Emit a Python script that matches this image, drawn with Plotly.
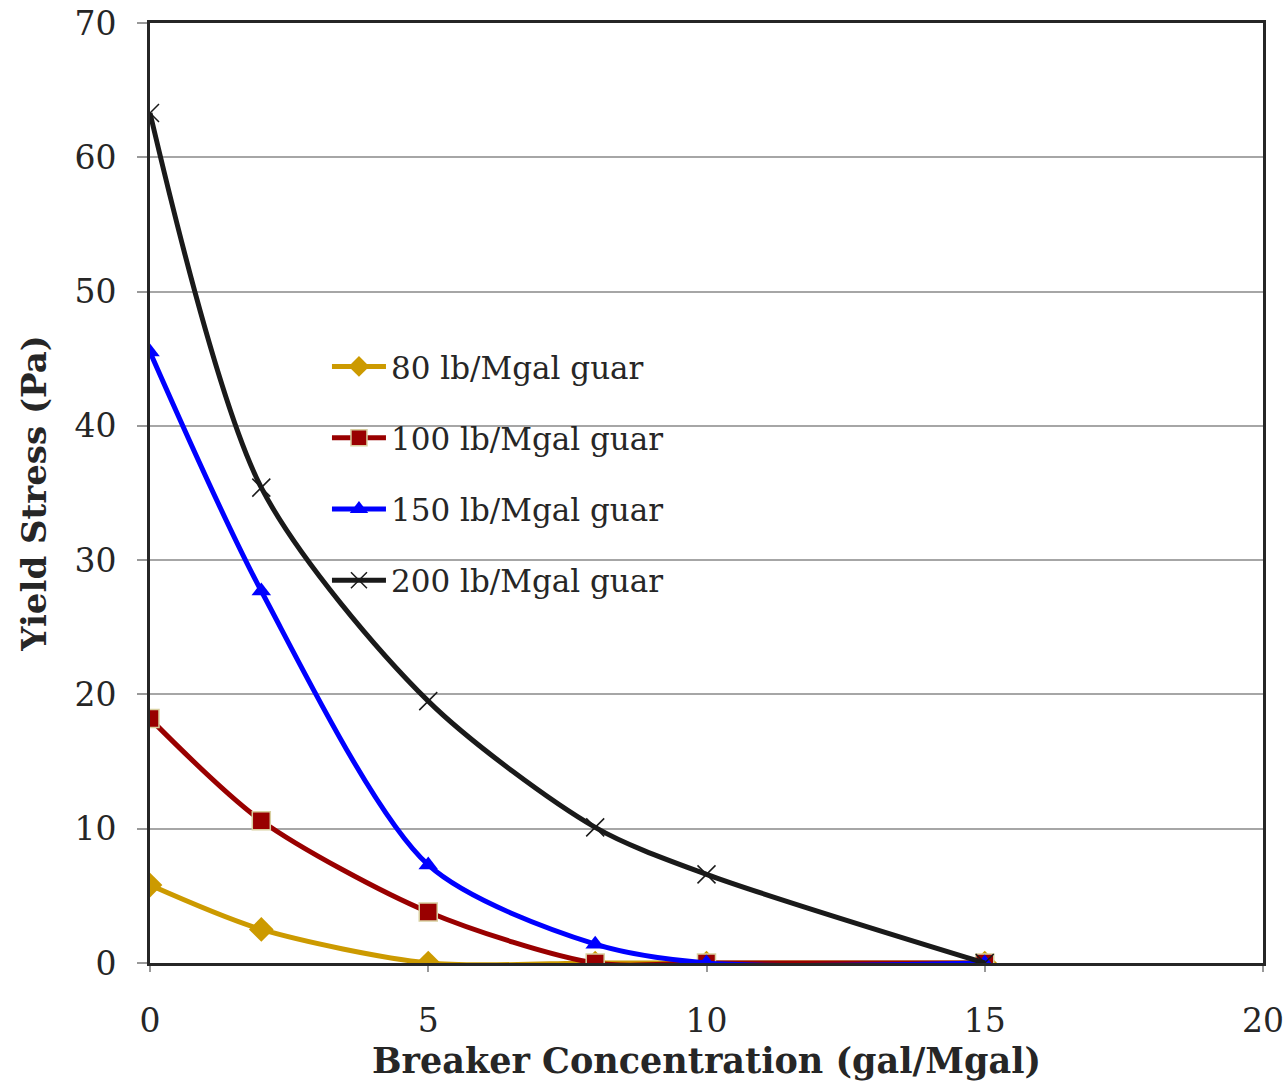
import plotly.graph_objects as go

x_vals = [0, 2, 5, 8, 10, 15]
y_80 = [5.8, 2.5, 0.0, 0.0, 0.0, 0.0]
y_100 = [18.2, 10.6, 3.8, 0.0, 0.0, 0.0]
y_150 = [45.5, 27.7, 7.3, 1.4, 0.0, 0.0]
y_200 = [63.3, 35.4, 19.5, 10.1, 6.6, 0.0]
names = ["80 lb/Mgal guar", "100 lb/Mgal guar", "150 lb/Mgal guar", "200 lb/Mgal guar"]

FONT = "DejaVu Serif"
fig = go.Figure()

styles = [
    dict(color="#CC9A00", symbol="diamond", size=19, mline=dict(width=0)),
    dict(color="#990000", symbol="square", size=18, mline=dict(width=1.5, color="#D8CFA0")),
    dict(color="#0000FF", symbol="triangle-up", size=17, mline=dict(width=0)),
    dict(color="#1A1A1A", symbol="x-thin-open", size=18, mline=dict(width=1.5, color="#1A1A1A")),
]
series = [y_80, y_100, y_150, y_200]
for i, (ys, nm, st) in enumerate(zip(series, names, styles)):
    fig.add_trace(go.Scatter(
        x=x_vals, y=ys, name=nm, mode="lines+markers",
        line=dict(color=st["color"], width=5, shape="spline", smoothing=0.8),
        marker=dict(symbol=st["symbol"], size=st["size"], color=st["color"], line=st["mline"]),
        legendgroup=f"g{i}",
    ))

fig.update_layout(
    width=1286, height=1083,
    margin=dict(l=150, r=23, t=23, b=120),
    paper_bgcolor="white", plot_bgcolor="white",
    font=dict(family=FONT, size=32, color="#262626"),
    showlegend=True,
    legend=dict(x=0.159, y=0.663, xanchor="left", yanchor="top",
                bgcolor="rgba(0,0,0,0)", traceorder="grouped", tracegroupgap=28,
                font=dict(family=FONT, size=31, color="#262626"), itemwidth=54),
)
fig.update_xaxes(
    range=[0, 20], tickvals=[0, 5, 10, 15, 20], showgrid=False, zeroline=False,
    showline=True, linecolor="#262626", linewidth=3, mirror=True,
    ticks="outside", ticklen=6, tickcolor="#999999", tickwidth=2,
    ticklabelstandoff=20, automargin=False,
    tickfont=dict(size=33),
    title=dict(text="<b>Breaker Concentration (gal/Mgal)</b>", standoff=8,
               font=dict(family=FONT, size=35, color="#262626")),
)
fig.update_yaxes(
    range=[0, 70], tickvals=[0, 10, 20, 30, 40, 50, 60, 70], showgrid=True,
    gridcolor="#A6A6A6", gridwidth=2, zeroline=False,
    showline=True, linecolor="#262626", linewidth=3, mirror=True,
    ticks="outside", ticklen=10, tickcolor="#999999", tickwidth=2,
    ticklabelstandoff=14, automargin=False,
    tickfont=dict(size=33),
    title=dict(text="<b>Yield Stress (Pa)</b>", standoff=18,
               font=dict(family=FONT, size=34, color="#262626")),
)

fig.write_html("out.html")
